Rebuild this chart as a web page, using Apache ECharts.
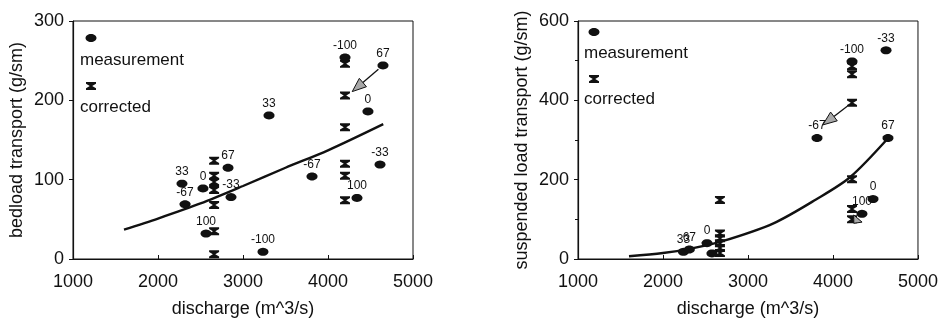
<!DOCTYPE html>
<html>
<head>
<meta charset="utf-8">
<script src="https://cdn.jsdelivr.net/npm/echarts@6/dist/echarts.min.js"></script>
<style>html,body{margin:0;padding:0;background:#fff}#c{width:941px;height:323px}</style>
</head>
<body>
<div id="c"></div>
<script>
// ---------- data ----------
const xTickValues = [1000, 2000, 3000, 4000, 5000];
const bedTicks = [0, 100, 200, 300];
const susTicks = [0, 200, 400, 600];

// bedload: measurements
const bedMeasX = [2282, 2318, 2529, 2565, 2824, 2859, 3235, 3306, 3812, 4200, 4341, 4470, 4612, 4647];
const bedMeasY = [95, 69, 89, 32, 115, 78, 9, 181, 104, 254, 77, 186, 119, 244];
const bedMeasLabel = ['33', '-67', '0', '100', '67', '-33', '-100', '33', '-67', '-100', '100', '0', '-33', '67'];
// bedload: corrected
const bedCorrX = [2660, 2660, 2660, 2660, 2660, 2660, 2660, 4200, 4200, 4200, 4200, 4200, 4200];
const bedCorrY = [124, 105, 97, 87, 68, 35, 6, 246, 206, 166, 120, 105, 74];
// bedload: fitted curve
const bedFitX = [1600, 2000, 2500, 3000, 3500, 4000, 4650];
const bedFitY = [37, 51, 70, 92, 115, 137, 170];
// bedload: arrow [fromX, fromY, toX, toY]
const bedArrows = [[4647, 244, 4285, 211]];

// suspended load: measurements
const susMeasX = [2240, 2310, 2518, 2576, 3812, 4224, 4341, 4471, 4624, 4647];
const susMeasY = [18, 24, 40, 14, 305, 498, 114, 151, 526, 305];
const susMeasLabel = ['33', '67', '0', '', '-67', '-100', '100', '0', '-33', '67'];
// suspended load: corrected
const susCorrX = [2670, 2670, 2670, 2670, 2670, 2670, 4224, 4224, 4224, 4224, 4224, 4224];
const susCorrY = [149, 64, 52, 40, 28, 15, 486, 466, 394, 201, 126, 100];
// suspended load: fitted curve
const susFitX = [1600, 2000, 2300, 2700, 3300, 3800, 4200, 4650];
const susFitY = [7, 15, 25, 45, 90, 150, 206, 305];
// suspended load: arrows
const susArrows = [[4224, 394, 3880, 338], [4341, 114, 4245, 90]];

// ---------- styling helpers ----------
const INK = '#111111';
const FONT = 'Liberation Sans, Arial, sans-serif';
function ellipsePath(rx, ry) {
  let s = 'path://';
  const n = 28;
  for (let i = 0; i < n; i++) {
    const a = i / n * Math.PI * 2;
    s += (i ? 'L' : 'M') + (rx + rx * Math.cos(a)).toFixed(2) + ',' + (ry + ry * Math.sin(a)).toFixed(2);
  }
  return s + 'Z';
}
const ELLIPSE = ellipsePath(5.5, 4);
const BOWTIE = 'path://M0,0 L10,0 L10,1.7 L6.2,4 L10,6.3 L10,8 L0,8 L0,6.3 L3.8,4 L0,1.7 Z';

function zip(xs, ys) { return xs.map((x, i) => [x, ys[i]]); }

function measSeries(idx, xs, ys, labels) {
  return {
    type: 'scatter', xAxisIndex: idx, yAxisIndex: idx,
    symbol: ELLIPSE, symbolSize: [11, 8],
    itemStyle: { color: INK, opacity: 1 },
    label: {
      show: true, position: 'top', distance: 2,
      fontSize: 12, fontFamily: FONT, color: INK,
      formatter: p => labels[p.dataIndex]
    },
    data: zip(xs, ys), z: 4
  };
}
function corrSeries(idx, xs, ys) {
  return {
    type: 'scatter', xAxisIndex: idx, yAxisIndex: idx,
    symbol: BOWTIE, symbolSize: [10, 8],
    itemStyle: { color: INK, opacity: 1 },
    data: zip(xs, ys), z: 3
  };
}
function fitSeries(idx, xs, ys) {
  return {
    type: 'line', xAxisIndex: idx, yAxisIndex: idx,
    showSymbol: false, smooth: 0.3,
    lineStyle: { color: INK, width: 2.4 },
    data: zip(xs, ys), z: 2
  };
}
function arrowSeries(idx, arr) {
  return {
    type: 'custom', xAxisIndex: idx, yAxisIndex: idx,
    encode: { x: [0, 2], y: [1, 3] },
    data: arr, z: 5,
    renderItem: function (params, api) {
      const p1 = api.coord([api.value(0), api.value(1)]);
      const p2 = api.coord([api.value(2), api.value(3)]);
      const dx = p2[0] - p1[0], dy = p2[1] - p1[1];
      const L = Math.sqrt(dx * dx + dy * dy);
      const ux = dx / L, uy = dy / L, nx = -uy, ny = ux;
      const s = [p1[0] + ux * 6, p1[1] + uy * 6];
      const head = Math.min(14, L * 0.5), hw = 5.5;
      const b = [p2[0] - ux * head, p2[1] - uy * head];
      return {
        type: 'group', children: [
          { type: 'line', shape: { x1: s[0], y1: s[1], x2: b[0], y2: b[1] },
            style: { stroke: INK, lineWidth: 1.3 } },
          { type: 'polygon', shape: { points: [p2, [b[0] + nx * hw, b[1] + ny * hw], [b[0] - nx * hw, b[1] - ny * hw]] },
            style: { fill: '#a8a8a8', stroke: INK, lineWidth: 1 } }
        ]
      };
    }
  };
}

function xAxisCfg(idx) {
  return {
    type: 'value', gridIndex: idx, min: 1000, max: 5000, interval: 1000,
    name: 'discharge (m^3/s)', nameLocation: 'middle', nameGap: 41,
    nameTextStyle: { fontSize: 18, fontFamily: FONT, color: INK },
    axisLine: { show: true, lineStyle: { color: INK, width: 1.2 } },
    axisTick: { show: true, inside: true, length: 4, lineStyle: { color: INK } },
    axisLabel: { fontSize: 18, fontFamily: FONT, color: INK, margin: 14,
      formatter: v => xTickValues.indexOf(v) >= 0 ? String(v) : '' },
    splitLine: { show: false }
  };
}
function yAxisCfg(idx, name, max, interval, ticks, gap, minor) {
  return {
    type: 'value', gridIndex: idx, min: 0, max: max, interval: interval,
    name: name, nameLocation: 'middle', nameGap: gap,
    nameTextStyle: { fontSize: 18, fontFamily: FONT, color: INK },
    axisLine: { show: true, lineStyle: { color: INK, width: 1.2 } },
    axisTick: { show: true, inside: false, length: 4, lineStyle: { color: INK } },
    minorTick: { show: minor, splitNumber: 2, length: 3, lineStyle: { color: INK } },
    axisLabel: { fontSize: 18, fontFamily: FONT, color: INK, margin: 9,
      formatter: v => ticks.indexOf(v) >= 0 ? String(v) : '' },
    splitLine: { show: false }
  };
}

function legendGraphics(ex, ey, tx, t1y, by, t2y) {
  return [
    { type: 'ellipse', shape: { cx: ex, cy: ey, rx: 5.5, ry: 4 }, style: { fill: INK } },
    { type: 'text', x: tx, y: t1y, style: { text: 'measurement', fontSize: 17, fontFamily: FONT, fill: INK, verticalAlign: 'middle' } },
    { type: 'polygon', shape: { points: [[ex - 5, by - 4], [ex + 5, by - 4], [ex + 5, by - 2.3], [ex + 1.2, by], [ex + 5, by + 2.3], [ex + 5, by + 4], [ex - 5, by + 4], [ex - 5, by + 2.3], [ex - 1.2, by], [ex - 5, by - 2.3]] }, style: { fill: INK } },
    { type: 'text', x: tx, y: t2y, style: { text: 'corrected', fontSize: 17, fontFamily: FONT, fill: INK, verticalAlign: 'middle' } }
  ];
}

const chart = echarts.init(document.getElementById('c'));
chart.setOption({
  backgroundColor: '#ffffff',
  animation: false,
  grid: [
    { left: 73, top: 21, width: 340, height: 242, show: true, borderColor: INK, borderWidth: 1 },
    { left: 578, top: 21, width: 340, height: 242, show: true, borderColor: INK, borderWidth: 1 }
  ],
  xAxis: [xAxisCfg(0), xAxisCfg(1)],
  yAxis: [
    yAxisCfg(0, 'bedload transport (g/sm)', 300, 100, bedTicks, 47, false),
    yAxisCfg(1, 'suspended load transport (g/sm)', 600, 200, susTicks, 47, true)
  ],
  series: [
    fitSeries(0, bedFitX, bedFitY),
    corrSeries(0, bedCorrX, bedCorrY),
    measSeries(0, bedMeasX, bedMeasY, bedMeasLabel),
    arrowSeries(0, bedArrows),
    fitSeries(1, susFitX, susFitY),
    corrSeries(1, susCorrX, susCorrY),
    measSeries(1, susMeasX, susMeasY, susMeasLabel),
    arrowSeries(1, susArrows)
  ],
  graphic: [
    ...legendGraphics(91, 38, 80, 60, 86, 107),
    ...legendGraphics(594, 32, 584, 53, 79, 99)
  ]
});
</script>
</body>
</html>
